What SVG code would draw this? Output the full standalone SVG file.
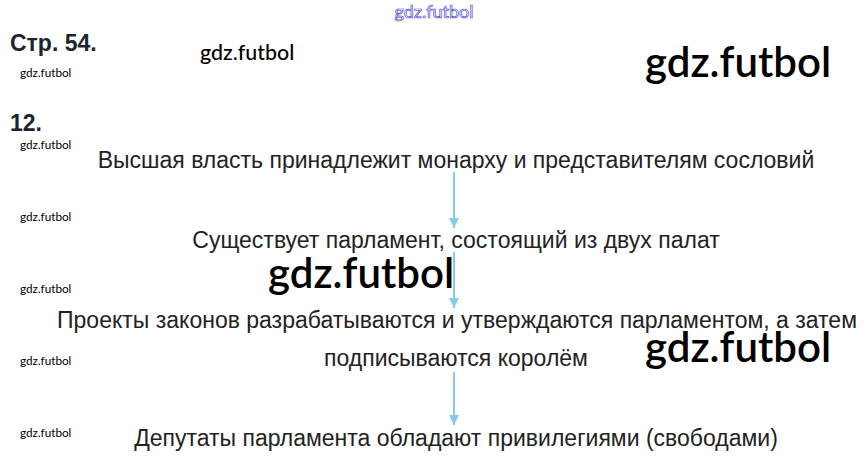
<svg xmlns="http://www.w3.org/2000/svg" width="867" height="464" viewBox="0 0 867 464">
<defs>
<style>
.t{font-family:"Liberation Sans",Arial,sans-serif;font-size:23px;fill:#222;text-anchor:middle}
.h{font-family:"Liberation Sans",Arial,sans-serif;font-size:23px;font-weight:bold;fill:#1a2530}
.wm{font-family:Lato,"Open Sans",sans-serif;fill:#000}
.ws{font-family:Lato,"Open Sans",sans-serif;font-size:11.7px;fill:#000}
.c{stroke:#87cbea;stroke-width:2;fill:none}
</style>
<marker id="ah" viewBox="0 0 10 10" refX="10" refY="5" markerWidth="5" markerHeight="5" orient="auto" markerUnits="strokeWidth">
<path d="M0,0 L10,5 L0,10 z" fill="#87cbea"/>
</marker>
</defs>
<rect width="867" height="464" fill="#fff"/>
<text x="434" y="18" font-family="Lato,'Open Sans',sans-serif" font-size="18" fill="none" stroke="#4a4ad0" stroke-width="0.7" text-anchor="middle">gdz.futbol</text>
<text class="h" x="10" y="51">Стр. 54.</text>
<text class="h" x="10" y="131">12.</text>
<text class="wm" x="200" y="60" font-size="21.4" font-weight="500">gdz.futbol</text>
<text class="wm" x="645" y="77" font-size="42" font-weight="600">gdz.futbol</text>
<text class="wm" x="268" y="288" font-size="42" font-weight="600">gdz.futbol</text>
<text class="wm" x="645" y="362" font-size="42" font-weight="600">gdz.futbol</text>
<g id="watermarks-small">
<text class="ws" x="20" y="77">gdz.futbol</text>
<text class="ws" x="20" y="149">gdz.futbol</text>
<text class="ws" x="20" y="221">gdz.futbol</text>
<text class="ws" x="20" y="293">gdz.futbol</text>
<text class="ws" x="20" y="365">gdz.futbol</text>
<text class="ws" x="20" y="437">gdz.futbol</text>
</g>
<g id="connectors">
<line class="c" x1="454" y1="172" x2="454" y2="228" marker-end="url(#ah)"/>
<line class="c" x1="454" y1="252" x2="454" y2="308" marker-end="url(#ah)"/>
<line class="c" x1="454" y1="372" x2="454" y2="425" marker-end="url(#ah)"/>
</g>
<g id="n1"><text class="t" x="456" y="168">Высшая власть принадлежит монарху и представителям сословий</text></g>
<g id="n2"><text class="t" x="456" y="248">Существует парламент, состоящий из двух палат</text></g>
<g id="n3"><text class="t" x="457" y="328">Проекты законов разрабатываются и утверждаются парламентом, а затем</text><text class="t" x="456" y="366">подписываются королём</text></g>
<g id="n4"><text class="t" x="456" y="446">Депутаты парламента обладают привилегиями (свободами)</text></g>
</svg>
